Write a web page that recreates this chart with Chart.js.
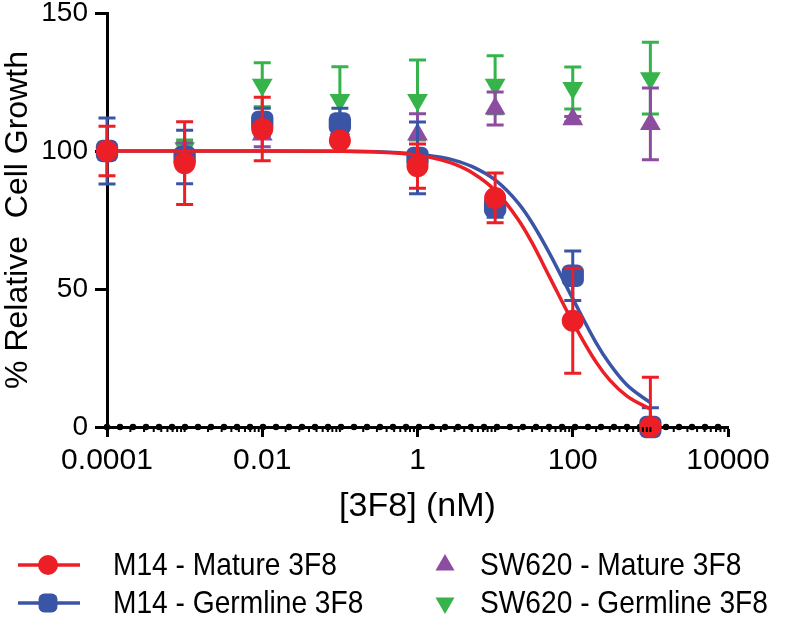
<!DOCTYPE html>
<html>
<head>
<meta charset="utf-8">
<script src="https://cdn.jsdelivr.net/npm/chart.js@4.4.1/dist/chart.umd.min.js"></script>
<style>
  html, body { margin: 0; padding: 0; background: #fff; }
  #wrap { width: 800px; height: 631px; }
</style>
</head>
<body>
<div id="wrap"><canvas id="doseChart" width="800" height="631"></canvas></div>
<script>
// concentrations (nM)
const concentrations = [0.0001, 0.001, 0.01, 0.1, 1, 10, 100, 1000];

// % relative cell growth (mean) and error (+/-) per series
const m14Mature = [100, 95.6, 108, 103.8, 94.5, 83, 38.5, 0];
const m14MatureErr = [9, 15, 11.5, 2, 8, 9, 19, 18];
const m14Germline = [100, 97.8, 110.5, 110, 97.5, 80, 54.8, 0];
const m14GermlineErr = [12, 9.7, 5, 5.5, 13, 4, 9, 7];
const sw620Mature = [100, 100, 106, 108, 106, 115.4, 111.5, 109.8];
const sw620MatureErr = [3, 3, 4.5, 3, 7.5, 6, 1, 13];
const sw620Germline = [100, 101, 124, 118.5, 118.5, 124, 122.8, 126.4];
const sw620GermlineErr = [3, 3, 8, 12, 14.5, 10.5, 7.6, 13];

// fitted curves
const fitX = [0.0001, 0.001, 0.01, 0.1, 0.3, 1, 2, 3, 5, 10, 20, 30, 50, 100, 200, 300, 500, 1000];
const m14MatureFit = [100, 100, 100, 99.9, 99.6, 98.5, 96.8, 95.2, 92.2, 85.7, 75, 66.7, 54.5, 38, 23.5, 17, 11.2, 6.5];
const m14GermlineFit = [100, 100, 100, 99.9, 99.7, 98.8, 97.7, 96.6, 94.4, 89.5, 81, 73.9, 63, 46.5, 30.5, 22.8, 15.2, 8.8];
const sw620FitX = [0.0001, 10000];
const sw620FitY = [0, 0];

// axes
const xTickValues = [0.0001, 0.01, 1, 100, 10000];
const yMin = 0, yMax = 150, yStep = 50;

const seriesLabels = ['M14 - Mature 3F8', 'M14 - Germline 3F8', 'SW620 - Mature 3F8', 'SW620 - Germline 3F8'];

const RED = '#ec1f26';
const BLUE = '#3a55a6';
const PURPLE = '#8c4da0';
const GREEN = '#36b34a';
const FONT = '"Liberation Sans", Arial, Helvetica, sans-serif';

function toPoints(xs, ys) {
    return xs.map((x, i) => ({ x: x, y: ys[i] }));
}

function pointSet(label, ys, errs, color, style, radius, rotation) {
    return {
        type: 'scatter',
        label: label,
        data: toPoints(concentrations, ys),
        errors: errs,
        backgroundColor: color,
        borderColor: color,
        borderWidth: 0,
        pointStyle: style,
        pointRadius: radius,
        pointRotation: rotation || 0,
        clip: false
    };
}

function fitSet(ys, color) {
    return {
        type: 'line',
        label: '',
        data: toPoints(fitX, ys),
        borderColor: color,
        borderWidth: 3.5,
        pointRadius: 0,
        cubicInterpolationMode: 'monotone',
        fill: false,
        clip: false
    };
}

// Draw the error bars of a series just before its markers
const errorBarPlugin = {
    id: 'errorBars',
    beforeDatasetDraw(chart, args) {
        const ds = chart.data.datasets[args.index];
        if (!ds.errors) return;
        const xs = chart.scales.x, ys = chart.scales.y;
        const ctx = chart.ctx;
        ctx.save();
        ctx.strokeStyle = ds.borderColor;
        ctx.lineWidth = 3;
        ds.data.forEach((p, i) => {
            const e = ds.errors[i];
            const px = xs.getPixelForValue(p.x);
            const top = ys.getPixelForValue(p.y + e);
            const bot = ys.getPixelForValue(Math.max(p.y - e, yMin));
            ctx.beginPath();
            ctx.moveTo(px, top);
            ctx.lineTo(px, bot);
            ctx.moveTo(px - 8.5, top);
            ctx.lineTo(px + 8.5, top);
            if (p.y - e >= yMin) {
                ctx.moveTo(px - 8.5, bot);
                ctx.lineTo(px + 8.5, bot);
            }
            ctx.stroke();
        });
        ctx.restore();
    }
};

// Minor log ticks under the x axis
const minorTickPlugin = {
    id: 'minorTicks',
    afterDraw(chart) {
        const xs = chart.scales.x;
        const ctx = chart.ctx;
        const y0 = chart.chartArea.bottom;
        ctx.save();
        ctx.strokeStyle = '#000';
        ctx.lineWidth = 2;
        for (let p = -4; p < 4; p++) {
            for (let k = 1; k <= 9; k++) {
                const v = k * Math.pow(10, p);
                if (k === 1 && p % 2 === 0) continue;
                const px = xs.getPixelForValue(v);
                ctx.beginPath();
                ctx.moveTo(px, y0);
                ctx.lineTo(px, y0 + 5);
                ctx.stroke();
            }
        }
        ctx.restore();
    }
};

// Two-column legend below the plot
const legendPlugin = {
    id: 'twoColLegend',
    afterDraw(chart) {
        const ctx = chart.ctx;
        const items = [
            { label: seriesLabels[0], color: RED, style: 'circle', r: 10, rot: 0, line: true, x: 48, y: 565 },
            { label: seriesLabels[1], color: BLUE, style: 'rectRounded', r: 11, rot: 0, line: true, x: 48, y: 603 },
            { label: seriesLabels[2], color: PURPLE, style: 'triangle', r: 11, rot: 0, line: false, x: 445, y: 565 },
            { label: seriesLabels[3], color: GREEN, style: 'triangle', r: 11, rot: 180, line: false, x: 445, y: 603 }
        ];
        ctx.save();
        items.forEach(it => {
            ctx.fillStyle = it.color;
            ctx.strokeStyle = it.color;
            if (it.line) {
                ctx.lineWidth = 3.5;
                ctx.beginPath();
                ctx.moveTo(it.x - 30, it.y);
                ctx.lineTo(it.x + 32, it.y);
                ctx.stroke();
            }
            Chart.helpers.drawPoint(ctx, {
                pointStyle: it.style, radius: it.r, rotation: it.rot, borderWidth: 0
            }, it.x, it.y);
            // slightly condensed text like the original
            const tx = it.x + 65 - (it.line ? 0 : 30);
            ctx.save();
            ctx.translate(tx, it.y);
            ctx.scale(0.88, 1);
            ctx.fillStyle = '#000';
            ctx.font = '32px ' + FONT;
            ctx.textBaseline = 'middle';
            ctx.textAlign = 'left';
            ctx.fillText(it.label, 0, 1);
            ctx.restore();
        });
        ctx.restore();
    }
};

const ctx = document.getElementById('doseChart').getContext('2d');

new Chart(ctx, {
    data: {
        datasets: [
            pointSet(seriesLabels[0], m14Mature, m14MatureErr, RED, 'circle', 11),
            fitSet(m14MatureFit, RED),
            pointSet(seriesLabels[1], m14Germline, m14GermlineErr, BLUE, 'rectRounded', 13),
            fitSet(m14GermlineFit, BLUE),
            pointSet(seriesLabels[2], sw620Mature, sw620MatureErr, PURPLE, 'triangle', 12),
            pointSet(seriesLabels[3], sw620Germline, sw620GermlineErr, GREEN, 'triangle', 12, 180),
            {
                type: 'line',
                label: '',
                data: toPoints(sw620FitX, sw620FitY),
                borderColor: '#000',
                borderWidth: 6.5,
                borderDash: [0, 13],
                borderCapStyle: 'round',
                pointRadius: 0,
                clip: false
            }
        ]
    },
    options: {
        responsive: false,
        animation: false,
        devicePixelRatio: 1,
        layout: { padding: { left: 0, top: 13, right: 72, bottom: 104 } },
        plugins: {
            legend: { display: false },
            tooltip: { enabled: false }
        },
        scales: {
            x: {
                type: 'logarithmic',
                min: 0.0001,
                max: 10000,
                afterBuildTicks: scale => {
                    scale.ticks = xTickValues.map(v => ({ value: v }));
                },
                afterFit: scale => { scale.height = 100; },
                border: { display: true, color: '#000', width: 3 },
                grid: { drawOnChartArea: false, drawTicks: true, tickLength: 10, tickWidth: 3, tickColor: '#000' },
                ticks: {
                    autoSkip: false,
                    maxRotation: 0,
                    padding: 6,
                    color: '#000',
                    font: { family: FONT, size: 30, lineHeight: 1.2 },
                    callback: v => String(v)
                },
                title: {
                    display: true,
                    text: '[3F8] (nM)',
                    color: '#000',
                    font: { family: FONT, size: 34, lineHeight: 1 },
                    padding: { top: 0, bottom: 3 }
                }
            },
            y: {
                type: 'linear',
                min: yMin,
                max: yMax,
                afterFit: scale => {
                    scale.width = 107;
                    scale.paddingTop = 0;
                    scale.paddingBottom = 0;
                },
                border: { display: true, color: '#000', width: 3 },
                grid: { drawOnChartArea: false, drawTicks: true, tickLength: 12, tickWidth: 3, tickColor: '#000' },
                ticks: {
                    stepSize: yStep,
                    padding: 7,
                    color: '#000',
                    font: { family: FONT, size: 28, lineHeight: 1.2 }
                },
                title: {
                    display: true,
                    text: '% Relative  Cell Growth',
                    color: '#000',
                    font: { family: FONT, size: 32, lineHeight: 1 },
                    padding: { top: 2, bottom: 0 }
                }
            }
        }
    },
    plugins: [errorBarPlugin, minorTickPlugin, legendPlugin]
});
</script>
</body>
</html>
